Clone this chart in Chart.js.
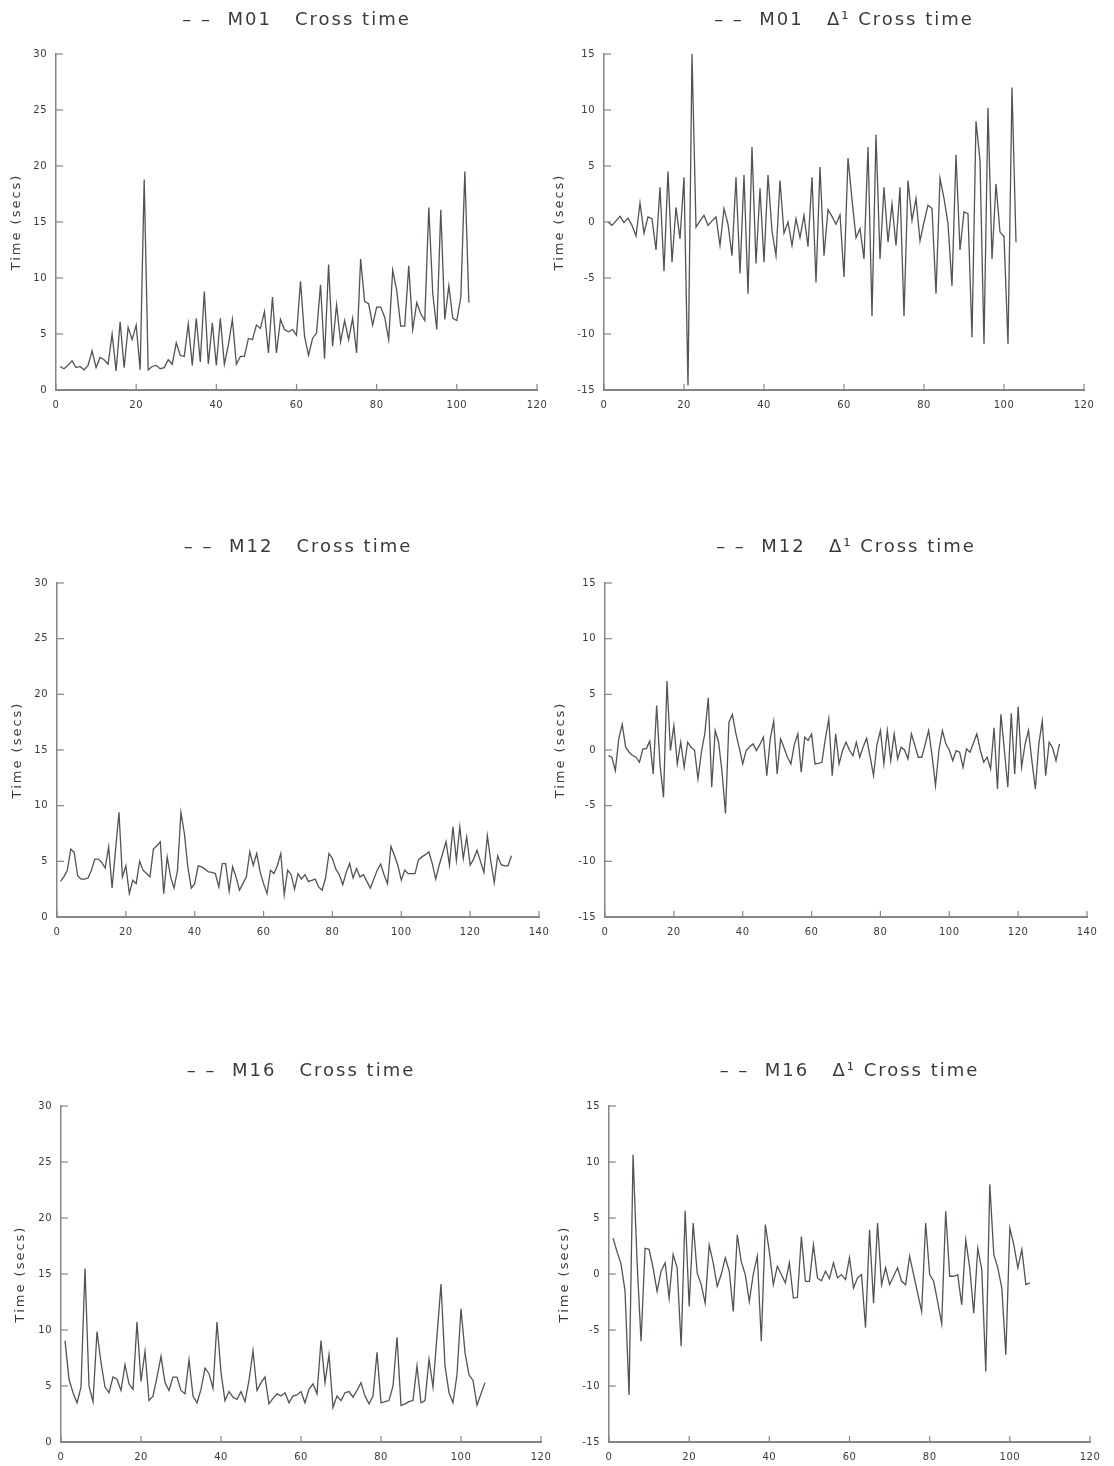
<!DOCTYPE html>
<html>
<head>
<meta charset="utf-8">
<script src="https://cdn.jsdelivr.net/npm/chart.js@4.4.1/dist/chart.umd.min.js"></script>
<style>
  html, body { margin: 0; padding: 0; background: #fff; overflow: hidden; }
  body { width: 1114px; height: 1466px; position: relative; }
  canvas { position: absolute; }
</style>
</head>
<body>
<canvas id="c1"></canvas>
<canvas id="c2"></canvas>
<canvas id="c3"></canvas>
<canvas id="c4"></canvas>
<canvas id="c5"></canvas>
<canvas id="c6"></canvas>
<script>
// tick values
const xTicks120 = [0, 20, 40, 60, 80, 100, 120];
const xTicks140 = [0, 20, 40, 60, 80, 100, 120, 140];
const crossTicks = [0, 5, 10, 15, 20, 25, 30];
const deltaTicks = [-15, -10, -5, 0, 5, 10, 15];

// M01 cross time, samples 1..103
const m01Cross = [
  2.1, 1.9, 2.2, 2.6, 2.0, 2.1, 1.8, 2.2, 3.5, 2.0,
  2.9, 2.7, 2.3, 5.0, 1.7, 6.1, 2.0, 5.6, 4.5, 5.8,
  1.8, 18.8, 1.8, 2.1, 2.2, 1.9, 2.0, 2.7, 2.3, 4.2,
  3.1, 3.0, 5.9, 2.2, 6.4, 2.5, 8.8, 2.3, 6.0, 2.2,
  6.4, 2.3, 4.0, 6.3, 2.3, 3.0, 3.0, 4.6, 4.5, 5.8,
  5.5, 7.0, 3.3, 8.3, 3.3, 6.3, 5.4, 5.2, 5.4, 4.9,
  9.7, 4.8, 3.1, 4.6, 5.1, 9.4, 2.8, 11.2, 3.9, 7.6,
  4.3, 6.2, 4.5, 6.4, 3.3, 11.7, 7.9, 7.7, 5.8, 7.4,
  7.4, 6.5, 4.5, 10.7, 8.9, 5.7, 5.7, 11.1, 5.4, 7.8,
  6.8, 6.2, 16.3, 8.6, 5.4, 16.1, 6.3, 9.3, 6.4, 6.2,
  8.3, 19.5, 7.8
];

// M01 delta-1 cross time, samples 1..103
const m01Delta = [
  0.0, -0.3, 0.1, 0.5, -0.05, 0.35, -0.3, -1.25, 1.7, -1.0,
  0.45, 0.3, -2.5, 3.1, -4.4, 4.5, -3.6, 1.3, -1.5, 4.0,
  -14.6, 15.0, -0.45, 0.1, 0.6, -0.3, 0.1, 0.45, -2.1, 1.2,
  -0.2, -3.0, 4.0, -4.6, 4.2, -6.4, 6.7, -3.7, 3.0, -3.6,
  4.2, -0.8, -3.0, 3.7, -1.0, 0.0, -2.1, 0.3, -1.4, 0.6,
  -2.2, 4.0, -5.4, 4.9, -3.0, 1.1, 0.5, -0.2, 0.65, -4.9,
  5.7, 2.0, -1.4, -0.6, -3.3, 6.7, -8.4, 7.8, -3.3, 3.1,
  -1.8, 1.6, -2.1, 3.1, -8.4, 3.7, 0.15, 2.1, -1.7, 0.0,
  1.5, 1.2, -6.4, 3.9, 2.1, -0.15, -5.7, 6.0, -2.5, 0.9,
  0.75, -10.3, 9.0, 5.5, -10.9, 10.2, -3.3, 3.4, -0.9, -1.3,
  -10.9, 12.0, -1.8
];

// M12 cross time, samples 1..132
const m12Cross = [
  3.2, 3.6, 4.2, 6.1, 5.8, 3.7, 3.4, 3.4, 3.5, 4.2,
  5.2, 5.2, 4.9, 4.4, 6.3, 2.6, 6.0, 9.4, 3.6, 4.6,
  2.1, 3.3, 3.0, 5.0, 4.2, 3.9, 3.6, 6.1, 6.4, 6.75,
  2.1, 5.4, 3.6, 2.6, 4.2, 9.4, 7.5, 4.5, 2.6, 3.0,
  4.6, 4.5, 4.3, 4.05, 4.0, 3.9, 2.7, 4.8, 4.8, 2.3,
  4.5, 3.6, 2.4, 3.0, 3.6, 5.85, 4.65, 5.7, 4.05, 3.0,
  2.1, 4.2, 3.9, 4.6, 5.7, 2.0, 4.2, 3.8, 2.5, 3.9,
  3.4, 3.8, 3.2, 3.3, 3.4, 2.7, 2.4, 3.5, 5.7, 5.25,
  4.3, 3.8, 2.9, 4.0, 4.8, 3.5, 4.35, 3.6, 3.8, 3.2,
  2.6, 3.4, 4.2, 4.75, 3.8, 3.0, 6.35, 5.55, 4.65, 3.3,
  4.2, 3.9, 3.9, 3.9, 5.15, 5.4, 5.6, 5.85, 4.8, 3.4,
  4.65, 5.7, 6.75, 4.65, 8.1, 5.1, 8.1, 5.25, 7.2, 4.65,
  5.2, 6.0, 5.0, 4.0, 7.3, 5.0, 3.1, 5.5, 4.7, 4.6,
  4.6, 5.5
];

// M12 delta-1 cross time, samples 1..132
const m12Delta = [
  -0.5, -0.65, -1.85, 1.0, 2.3, 0.25, -0.2, -0.5, -0.65, -1.1,
  0.1, 0.1, 0.8, -2.15, 4.0, -1.4, -4.25, 6.2, -0.05, 2.2,
  -1.25, 0.7, -1.55, 0.7, 0.25, 0.0, -2.6, -0.2, 1.5, 4.7,
  -3.35, 1.75, 0.7, -2.0, -5.7, 2.5, 3.2, 1.5, 0.2, -1.25,
  -0.05, 0.3, 0.55, -0.05, 0.5, 1.15, -2.3, 1.0, 2.6, -2.15,
  1.0, 0.2, -0.65, -1.25, 0.5, 1.45, -2.0, 1.15, 0.85, 1.45,
  -1.25, -1.2, -1.1, 1.0, 2.8, -2.3, 1.45, -1.25, -0.05, 0.7,
  0.0, -0.5, 0.7, -0.65, 0.3, 1.05, -0.6, -2.3, 0.5, 1.75,
  -1.25, 1.75, -0.95, 1.45, -0.8, 0.25, 0.0, -0.8, 1.45, 0.4,
  -0.65, -0.65, 0.5, 1.75, -0.5, -3.2, 0.0, 1.75, 0.55, 0.0,
  -0.95, -0.05, -0.2, -1.55, 0.1, -0.2, 0.6, 1.45, 0.0, -1.1,
  -0.65, -1.7, 2.0, -3.5, 3.2, 0.0, -3.35, 3.3, -2.15, 3.9,
  -1.55, 0.5, 1.75, -1.0, -3.5, 0.5, 2.6, -2.3, 0.7, 0.2,
  -0.95, 0.55
];

// M16 cross time, samples 1..106
const m16Cross = [
  9.05, 5.6, 4.4, 3.5, 4.9, 15.5, 5.0, 3.6, 9.85, 7.1,
  4.9, 4.4, 5.8, 5.6, 4.6, 6.9, 5.2, 4.7, 10.7, 5.4,
  8.1, 3.7, 4.1, 5.8, 7.65, 5.3, 4.6, 5.8, 5.8, 4.6,
  4.3, 7.35, 4.1, 3.5, 4.7, 6.6, 6.1, 4.8, 10.7, 6.2,
  3.7, 4.5, 4.0, 3.8, 4.5, 3.6, 5.5, 8.15, 4.6, 5.3,
  5.8, 3.4, 3.9, 4.3, 4.1, 4.4, 3.5, 4.1, 4.2, 4.5,
  3.5, 4.7, 5.2, 4.3, 9.05, 5.3, 7.8, 3.1, 4.1, 3.7,
  4.4, 4.5, 4.0, 4.6, 5.3, 4.1, 3.4, 4.1, 8.0, 3.5,
  3.6, 3.7, 5.0, 9.35, 3.25, 3.4, 3.6, 3.7, 6.8, 3.5,
  3.7, 7.4, 4.9, 9.5, 14.1, 6.8, 4.4, 3.5, 6.0, 11.9,
  8.0, 6.0, 5.5, 3.3, 4.3, 5.3
];

// M16 delta-1 cross time, samples 1..105
const m16Delta = [
  3.2, 2.0, 0.9, -1.5, -10.8, 10.65, 1.1, -6.0, 2.3, 2.2,
  0.55, -1.55, 0.25, 1.0, -2.15, 1.75, 0.55, -6.45, 5.65, -2.9,
  4.55, 0.1, -0.95, -2.6, 2.6, 1.0, -1.1, -0.05, 1.45, 0.25,
  -3.35, 3.5, 1.1, -0.05, -2.45, 0.0, 1.6, -6.0, 4.4, 2.0,
  -0.95, 0.7, -0.05, -0.8, 1.0, -2.15, -2.1, 3.35, -0.65, -0.65,
  2.6, -0.35, -0.6, 0.25, -0.4, 1.0, -0.35, -0.05, -0.5, 1.45,
  -1.25, -0.35, -0.05, -4.8, 3.95, -2.6, 4.55, -0.95, 0.55, -0.95,
  -0.2, 0.55, -0.65, -0.95, 1.6, -0.05, -1.7, -3.35, 4.55, -0.05,
  -0.65, -2.5, -4.45, 5.6, -0.2, -0.2, -0.05, -2.75, 3.05, 0.55,
  -3.5, 2.3, 0.4, -8.7, 8.0, 1.75, 0.55, -1.25, -7.2, 4.1,
  2.6, 0.55, 2.2, -0.95, -0.8
];

const fontFamily = "'DejaVu Sans', sans-serif";
const textColor = '#3a3a3a';
const axisColor = '#858585';
const lineColor = '#4f5551';

// plot: [left, right, top, bottom] of the plotting area on the page
const panels = [
  { id: 'c1', title: '\u2013 \u2013  M01   Cross time', data: m01Cross, xMax: 120, xTicks: xTicks120, yTicks: crossTicks, plot: [56, 537, 54, 390], top: 0, yTitleX: 17 },
  { id: 'c2', title: '\u2013 \u2013  M01   \u0394\u00b9 Cross time', data: m01Delta, xMax: 120, xTicks: xTicks120, yTicks: deltaTicks, plot: [604, 1084, 54, 390], top: 0, yTitleX: 560 },
  { id: 'c3', title: '\u2013 \u2013  M12   Cross time', data: m12Cross, xMax: 140, xTicks: xTicks140, yTicks: crossTicks, plot: [57, 539, 583, 917], top: 527, yTitleX: 18 },
  { id: 'c4', title: '\u2013 \u2013  M12   \u0394\u00b9 Cross time', data: m12Delta, xMax: 140, xTicks: xTicks140, yTicks: deltaTicks, plot: [605, 1087, 583, 917], top: 527, yTitleX: 561 },
  { id: 'c5', title: '\u2013 \u2013  M16   Cross time', data: m16Cross, xMax: 120, xTicks: xTicks120, yTicks: crossTicks, plot: [61, 541, 1106, 1442], top: 1051, yTitleX: 21 },
  { id: 'c6', title: '\u2013 \u2013  M16   \u0394\u00b9 Cross time', data: m16Delta, xMax: 120, xTicks: xTicks120, yTicks: deltaTicks, plot: [609, 1090, 1106, 1442], top: 1051, yTitleX: 565 }
];

// wide plotter-style lettering for the titles, tighter for tick labels (drawn after datasets, z: 1)
const letterSpacing = {
  id: 'letterSpacing',
  beforeDraw(chart) { chart.ctx.letterSpacing = '2px'; },
  afterDatasetsDraw(chart) { chart.ctx.letterSpacing = '0.5px'; }
};

// short tick marks pointing into the plot, like the original plotter output
const inwardTicks = {
  id: 'inwardTicks',
  afterDatasetsDraw(chart) {
    const { ctx, chartArea, scales } = chart;
    ctx.save();
    ctx.strokeStyle = axisColor;
    ctx.lineWidth = 1.2;
    scales.x.ticks.forEach(t => {
      const px = scales.x.getPixelForValue(t.value);
      ctx.beginPath();
      ctx.moveTo(px, chartArea.bottom);
      ctx.lineTo(px, chartArea.bottom - 6);
      ctx.stroke();
    });
    scales.y.ticks.forEach(t => {
      const py = scales.y.getPixelForValue(t.value);
      ctx.beginPath();
      ctx.moveTo(chartArea.left, py);
      ctx.lineTo(chartArea.left + 7, py);
      ctx.stroke();
    });
    ctx.restore();
  }
};

function makeChart(p) {
  const cv = document.getElementById(p.id);
  const [pl, pr, pt, pb] = p.plot;
  const left = pl - 56;
  cv.width = (pr - pl) + 112;
  cv.height = (pb - p.top) + 30;
  cv.style.left = left + 'px';
  cv.style.top = p.top + 'px';

  const points = p.data.map((v, k) => ({ x: k + 1, y: v }));
  const tickFont = { family: fontFamily, size: 10 };

  new Chart(cv, {
    type: 'line',
    data: {
      datasets: [{
        data: points,
        borderColor: lineColor,
        borderWidth: 1.3,
        pointRadius: 0,
        tension: 0,
        fill: false
      }]
    },
    options: {
      responsive: false,
      animation: false,
      devicePixelRatio: 1,
      layout: { padding: { left: 0, right: 56, top: 0, bottom: 0 } },
      plugins: {
        legend: { display: false },
        tooltip: { enabled: false },
        title: {
          display: true,
          fullSize: false,
          text: p.title,
          color: textColor,
          font: { family: fontFamily, size: 18, weight: 'normal' },
          padding: { top: 9.2, bottom: pt - p.top - 30.8 }
        }
      },
      scales: {
        x: {
          type: 'linear',
          min: 0,
          max: p.xMax,
          afterFit: s => { s.height = 30; },
          afterBuildTicks: s => { s.ticks = p.xTicks.map(v => ({ value: v })); },
          grid: { drawOnChartArea: false, drawTicks: false },
          border: { display: true, color: axisColor, width: 2 },
          ticks: { z: 1, color: textColor, font: tickFont, padding: 9, maxRotation: 0, autoSkip: false }
        },
        y: {
          min: p.yTicks[0],
          max: p.yTicks[p.yTicks.length - 1],
          afterFit: s => { s.width = 56; },
          afterBuildTicks: s => { s.ticks = p.yTicks.map(v => ({ value: v })); },
          grid: { drawOnChartArea: false, drawTicks: false },
          border: { display: true, color: axisColor, width: 1.5 },
          ticks: { z: 1, color: textColor, font: tickFont, padding: 9, autoSkip: false },
          title: {
            display: true,
            text: 'Time (secs)',
            color: textColor,
            font: { family: fontFamily, size: 13, weight: 'normal' },
            padding: { top: p.yTitleX - left - 7.8, bottom: 0 }
          }
        }
      }
    },
    plugins: [letterSpacing, inwardTicks]
  });
}

panels.forEach(makeChart);
</script>
</body>
</html>
